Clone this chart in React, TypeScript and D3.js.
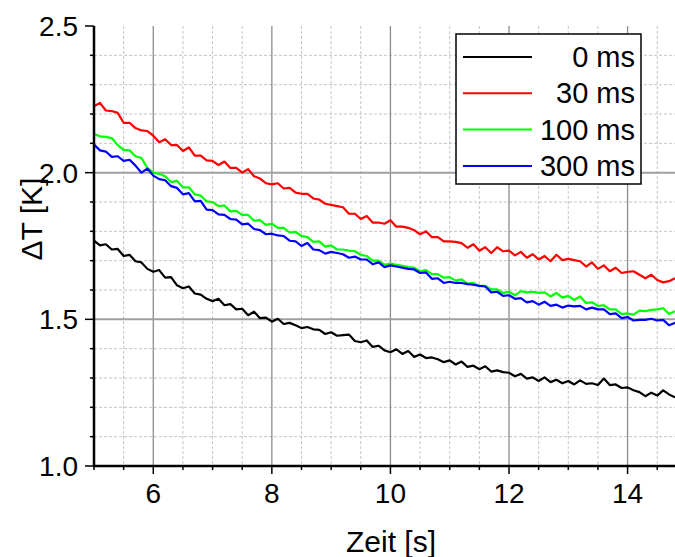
import * as d3 from "d3";

// sampling times (s), 0.1 s apart
const times = d3.range(0, 99).map((i) => +(5 + i * 0.1).toFixed(1));

const delays = ["0 ms", "30 ms", "100 ms", "300 ms"];
const colors = ["#000000", "#ff0000", "#00ff00", "#0000ff"];

const dT0 = [
  1.768, 1.752, 1.756, 1.738, 1.74, 1.716, 1.72, 1.698, 1.694, 1.672,
  1.662, 1.668, 1.642, 1.644, 1.616, 1.606, 1.612, 1.588, 1.584, 1.57,
  1.562, 1.57, 1.548, 1.552, 1.534, 1.536, 1.514, 1.526, 1.504, 1.506,
  1.492, 1.502, 1.484, 1.488, 1.48, 1.47, 1.474, 1.466, 1.464, 1.45,
  1.456, 1.444, 1.446, 1.448, 1.426, 1.422, 1.428, 1.406, 1.41, 1.394,
  1.388, 1.398, 1.382, 1.392, 1.372, 1.38, 1.368, 1.37, 1.364, 1.354,
  1.36, 1.346, 1.356, 1.338, 1.342, 1.33, 1.34, 1.322, 1.326, 1.32,
  1.318, 1.306, 1.314, 1.298, 1.302, 1.29, 1.302, 1.286, 1.294, 1.282,
  1.29, 1.278, 1.292, 1.28, 1.282, 1.276, 1.298, 1.276, 1.278, 1.266,
  1.268, 1.258, 1.252, 1.238, 1.25, 1.24, 1.258, 1.244, 1.234,
];

const dT30 = [
  2.226, 2.238, 2.212, 2.21, 2.204, 2.17, 2.17, 2.152, 2.144, 2.142,
  2.126, 2.104, 2.114, 2.094, 2.094, 2.074, 2.086, 2.058, 2.058, 2.042,
  2.04, 2.026, 2.038, 2.016, 2.016, 2.0, 2.012, 1.988, 1.98, 1.964,
  1.96, 1.964, 1.946, 1.948, 1.932, 1.928, 1.928, 1.912, 1.908, 1.894,
  1.89, 1.886, 1.882, 1.86, 1.86, 1.842, 1.852, 1.83, 1.83, 1.826,
  1.838, 1.816, 1.816, 1.812, 1.804, 1.79, 1.8, 1.78, 1.78, 1.766,
  1.766, 1.764, 1.76, 1.744, 1.756, 1.734, 1.746, 1.726, 1.746, 1.732,
  1.734, 1.718, 1.73, 1.71, 1.722, 1.704, 1.716, 1.698, 1.72, 1.702,
  1.706, 1.702, 1.698, 1.68, 1.694, 1.672, 1.684, 1.664, 1.676, 1.658,
  1.662, 1.664, 1.652, 1.64, 1.652, 1.634, 1.626, 1.63, 1.64,
];

const dT100 = [
  2.132, 2.124, 2.122, 2.118, 2.094, 2.078, 2.076, 2.056, 2.05, 2.016,
  2.0, 1.996, 1.988, 1.968, 1.972, 1.95, 1.95, 1.926, 1.922, 1.902,
  1.9, 1.886, 1.888, 1.868, 1.87, 1.856, 1.856, 1.836, 1.838, 1.822,
  1.826, 1.812, 1.812, 1.796, 1.798, 1.784, 1.78, 1.764, 1.766, 1.748,
  1.752, 1.738, 1.738, 1.734, 1.732, 1.72, 1.716, 1.7, 1.7, 1.686,
  1.69, 1.686, 1.682, 1.678, 1.676, 1.664, 1.668, 1.654, 1.654, 1.642,
  1.644, 1.632, 1.636, 1.622, 1.624, 1.614, 1.614, 1.602, 1.602, 1.59,
  1.594, 1.582, 1.596, 1.592, 1.594, 1.59, 1.592, 1.578, 1.59, 1.574,
  1.58, 1.566, 1.578, 1.556, 1.558, 1.546, 1.548, 1.534, 1.534, 1.518,
  1.52, 1.516, 1.53, 1.528, 1.532, 1.534, 1.538, 1.518, 1.528,
];

const dT300 = [
  2.096, 2.076, 2.072, 2.054, 2.056, 2.04, 2.044, 2.024, 2.0, 2.014,
  1.99, 1.978, 1.974, 1.954, 1.948, 1.926, 1.93, 1.902, 1.904, 1.874,
  1.872, 1.858, 1.856, 1.842, 1.84, 1.824, 1.826, 1.808, 1.804, 1.79,
  1.792, 1.786, 1.784, 1.768, 1.766, 1.75, 1.76, 1.738, 1.736, 1.724,
  1.73, 1.726, 1.722, 1.71, 1.714, 1.704, 1.704, 1.688, 1.694, 1.678,
  1.684, 1.68, 1.676, 1.672, 1.67, 1.658, 1.66, 1.638, 1.64, 1.624,
  1.628, 1.624, 1.624, 1.62, 1.618, 1.614, 1.612, 1.592, 1.594, 1.58,
  1.582, 1.57, 1.572, 1.558, 1.562, 1.55, 1.56, 1.546, 1.55, 1.54,
  1.547, 1.544, 1.546, 1.534, 1.54, 1.534, 1.534, 1.518, 1.52, 1.504,
  1.508, 1.496, 1.498, 1.498, 1.502, 1.496, 1.498, 1.48, 1.488,
];

const xMajorTicks = [6, 8, 10, 12, 14];
const yMajorTicks = [1.0, 1.5, 2.0, 2.5];

const W = 675;
const H = 557;
const FONT = "'Liberation Sans', Arial, sans-serif";

export default function App() {
  const left = 94;
  const right = 675;
  const top = 26;
  const bottom = 466;

  const x = d3.scaleLinear([5, 14.8], [left, right]);
  const y = d3.scaleLinear([1.0, 2.5], [bottom, top]);

  const xMinor = d3.range(5, 14.81, 0.5).map((v) => +v.toFixed(1));
  const yMinor = d3.range(1.0, 2.51, 0.1).map((v) => +v.toFixed(1));

  const series = [dT0, dT30, dT100, dT300];
  const line = d3
    .line<number>()
    .x((_, i) => x(times[i]))
    .y((d) => y(d));

  const legX = 456;
  const legY = 34;
  const rowH = 36.3;

  return (
    <svg
      width={W}
      height={H}
      style={{ position: "absolute", left: 0, top: 0, background: "#fff" }}
      fontFamily={FONT}
    >
      <defs>
        <clipPath id="plot">
          <rect x={left} y={top} width={right - left} height={bottom - top} />
        </clipPath>
      </defs>

      {/* minor grid */}
      <g stroke="#c4c4c4" strokeWidth={1} strokeDasharray="3,2">
        {xMinor
          .filter((v) => !xMajorTicks.includes(v) && v > 5)
          .map((v) => (
            <line key={"gx" + v} x1={x(v)} x2={x(v)} y1={top} y2={bottom} />
          ))}
        {yMinor
          .filter((v) => !yMajorTicks.includes(v))
          .map((v) => (
            <line key={"gy" + v} x1={left} x2={right} y1={y(v)} y2={y(v)} />
          ))}
      </g>
      {/* major grid */}
      <g stroke="#8c8c8c" strokeWidth={1.3}>
        {xMajorTicks.map((v) => (
          <line key={"Gx" + v} x1={x(v)} x2={x(v)} y1={top} y2={bottom} />
        ))}
        {[1.5, 2.0].map((v) => (
          <line key={"Gy" + v} x1={left} x2={right} y1={y(v)} y2={y(v)} stroke="#a0a0a0" strokeWidth={2} />
        ))}
      </g>

      {/* data */}
      <g clipPath="url(#plot)" fill="none" strokeWidth={2.2} strokeLinejoin="round">
        {series.map((s, i) => (
          <path key={i} d={line(s) ?? ""} stroke={colors[i]} />
        ))}
      </g>

      {/* axes */}
      <g stroke="#000" strokeWidth={1.5}>
        {xMinor.map((v) => (
          <line key={"tx" + v} x1={x(v)} x2={x(v)} y1={bottom} y2={bottom + (xMajorTicks.includes(v) ? 8 : 4)} />
        ))}
        {yMinor.map((v) => (
          <line key={"ty" + v} x1={left} x2={left - (yMajorTicks.includes(v) ? 9 : 4)} y1={y(v)} y2={y(v)} />
        ))}
        <line x1={left} x2={left} y1={top} y2={bottom + 1} strokeWidth={2.5} />
        <line x1={left - 1} x2={right} y1={bottom} y2={bottom} strokeWidth={2.5} />
      </g>

      <g fontSize={28} fill="#000">
        {xMajorTicks.map((v) => (
          <text key={"lx" + v} x={x(v)} y={503} textAnchor="middle">
            {v}
          </text>
        ))}
        {yMajorTicks.map((v) => (
          <text key={"ly" + v} x={78} y={y(v) + 10} textAnchor="end">
            {d3.format(".1f")(v)}
          </text>
        ))}
        <text x={391} y={552} textAnchor="middle" fontSize={30}>
          Zeit [s]
        </text>
        <text transform="translate(42,219) rotate(-90)" textAnchor="middle" fontSize={30}>
          ΔT [K]
        </text>
      </g>

      {/* legend */}
      <g>
        <rect x={legX} y={legY} width={185} height={150} fill="#fff" stroke="#000" strokeWidth={1.5} />
        {delays.map((d, i) => (
          <g key={d} transform={`translate(0,${legY + 23 + i * rowH})`}>
            <line x1={463} x2={532} y1={0} y2={0} stroke={colors[i]} strokeWidth={2} />
            <text x={635} y={10} textAnchor="end" fontSize={29}>
              {d}
            </text>
          </g>
        ))}
      </g>
    </svg>
  );
}
